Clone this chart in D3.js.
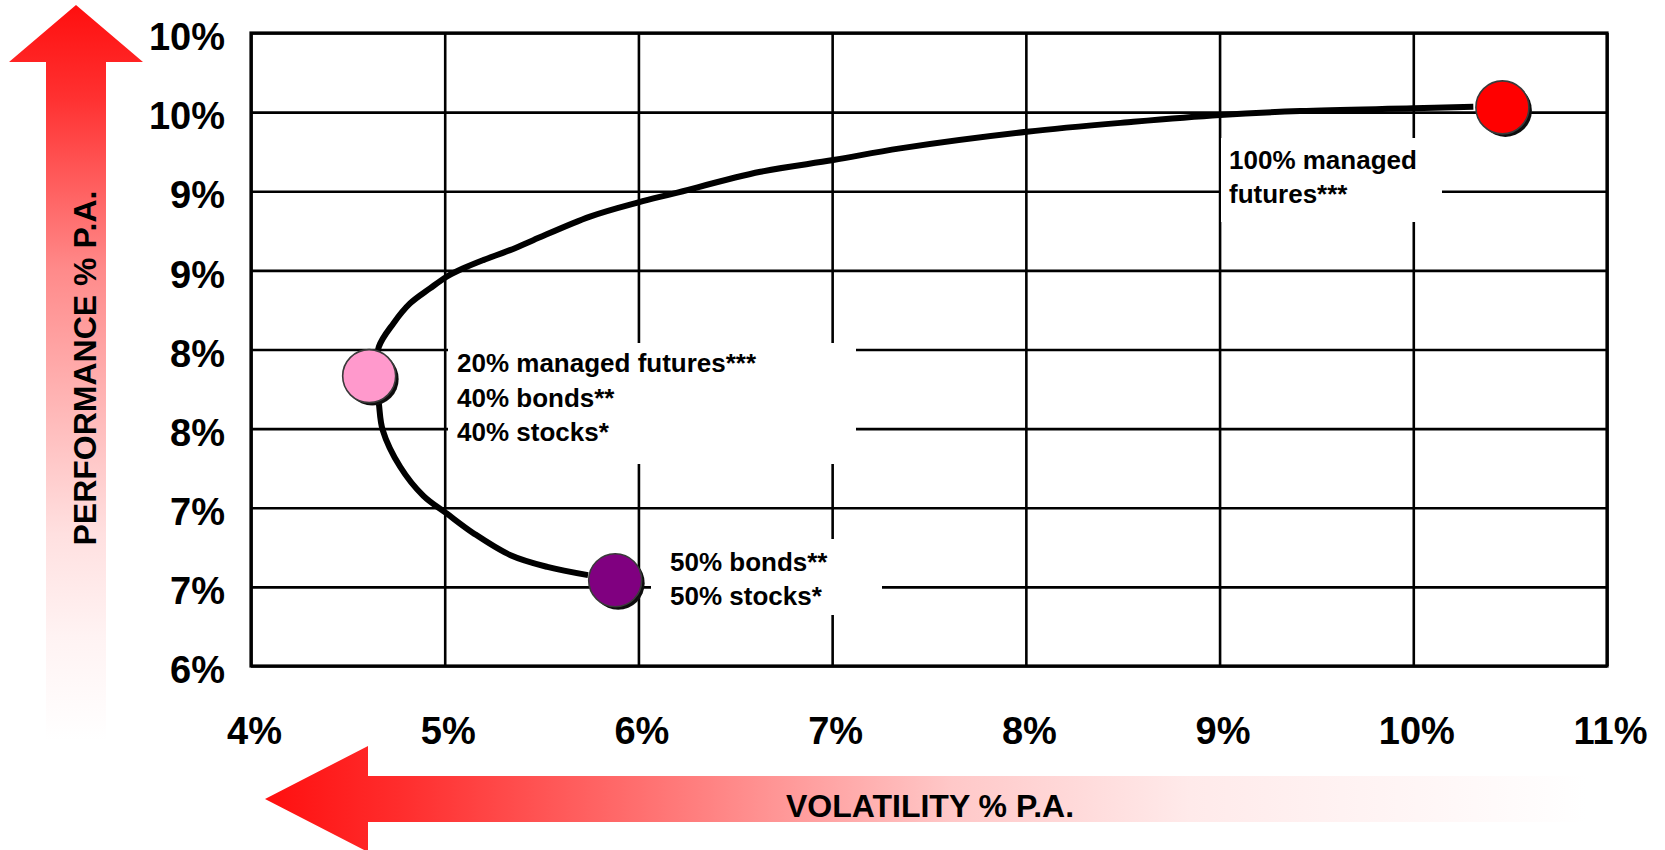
<!DOCTYPE html>
<html>
<head>
<meta charset="utf-8">
<script src="https://cdn.jsdelivr.net/npm/d3@7"></script>
<style>
  html, body { margin: 0; padding: 0; background: #ffffff; }
  svg { display: block; }
  text { font-family: "Liberation Sans", Arial, Helvetica, sans-serif; font-weight: bold; fill: #000; }
</style>
</head>
<body>
<svg id="chart" width="1665" height="850"></svg>
<script>
// Axis ticks (volatility % p.a. on x, performance % p.a. on y)
const xTicks = [4, 5, 6, 7, 8, 9, 10, 11];
const xTickLabels = ["4%", "5%", "6%", "7%", "8%", "9%", "10%", "11%"];
const yTicks = [6, 6.5, 7, 7.5, 8, 8.5, 9, 9.5, 10];
const yTickLabels = ["6%", "7%", "7%", "8%", "8%", "9%", "9%", "10%", "10%"];

// Efficient frontier: volatility and performance of blended portfolios
const frontierVol  = [5.74, 5.53, 5.34, 5.15, 5.01, 4.89, 4.77, 4.68, 4.66, 4.645, 4.66, 4.735, 4.821, 4.924, 5.01, 5.096, 5.199, 5.337, 5.457, 5.75, 6.00, 6.18, 6.63, 7.006, 7.351, 8.005, 8.555, 9.003, 9.416, 10.00, 10.31];
const frontierPerf = [6.574, 6.626, 6.70, 6.838, 6.964, 7.075, 7.259, 7.491, 7.659, 7.826, 8.017, 8.165, 8.291, 8.386, 8.46, 8.513, 8.565, 8.628, 8.691, 8.84, 8.93, 8.985, 9.123, 9.197, 9.271, 9.376, 9.439, 9.482, 9.507, 9.524, 9.534];

// Highlighted portfolios
const portfolioVol   = [5.88, 4.61, 10.46];
const portfolioPerf  = [6.542, 7.832, 9.53];
const portfolioColor = ["#800080", "#ff99cc", "#ff0000"];
const portfolioText  = [
  ["50% bonds**", "50% stocks*"],
  ["20% managed futures***", "40% bonds**", "40% stocks*"],
  ["100% managed", "futures***"]
];

const svg = d3.select("#chart");
const margin = { left: 251, right: 58, top: 33, bottom: 184 };
const W = 1665, H = 850;
const x0 = margin.left, x1 = W - margin.right;
const y0 = margin.top, y1 = H - margin.bottom;

const x = d3.scaleLinear().domain([4, 11]).range([x0, x1]);
const y = d3.scaleLinear().domain([6, 10]).range([y1, y0]);

// ---- gradient arrows ----
const defs = svg.append("defs");
const vGrad = defs.append("linearGradient").attr("id", "vGrad")
  .attr("gradientUnits", "userSpaceOnUse").attr("x1", 0).attr("y1", 5).attr("x2", 0).attr("y2", 740);
[[0, "#ff0f0f"], [0.125, "#ff3030"], [0.36, "#ff8a8a"], [0.72, "#ffe0e0"], [0.86, "#fff3f3"], [1, "#ffffff"]]
  .forEach(([o, c]) => vGrad.append("stop").attr("offset", o).attr("stop-color", c));
const hGrad = defs.append("linearGradient").attr("id", "hGrad")
  .attr("gradientUnits", "userSpaceOnUse").attr("x1", 265).attr("y1", 0).attr("x2", 1586).attr("y2", 0);
[[0, "#ff0f0f"], [0.1, "#ff2c2c"], [0.33, "#ff8080"], [0.52, "#ffc8c8"], [0.7, "#ffeaea"], [0.93, "#fffafa"], [1, "#ffffff"]]
  .forEach(([o, c]) => hGrad.append("stop").attr("offset", o).attr("stop-color", c));

const shadow = defs.append("filter").attr("id", "soft").attr("x", "-20%").attr("y", "-20%").attr("width", "140%").attr("height", "140%");
shadow.append("feGaussianBlur").attr("stdDeviation", 0.6);

// Upward arrow: performance
svg.append("path")
  .attr("d", "M76,5 L143,62 L106,62 L106,740 L46,740 L46,62 L9,62 Z")
  .attr("fill", "url(#vGrad)");
// Leftward arrow: volatility
svg.append("path")
  .attr("d", "M265,799 L368,746 L368,776 L1586,776 L1586,822 L368,822 L368,852 Z")
  .attr("fill", "url(#hGrad)");

svg.append("text")
  .attr("transform", "translate(84,368) rotate(-90)")
  .attr("text-anchor", "middle").attr("dy", "0.36em")
  .style("font-size", "32px")
  .text("PERFORMANCE % P.A.");
svg.append("text")
  .attr("x", 930).attr("y", 817)
  .attr("text-anchor", "middle")
  .style("font-size", "32px")
  .text("VOLATILITY % P.A.");

// ---- grid ----
const grid = svg.append("g");
grid.append("g").attr("transform", `translate(0,${y1})`)
  .call(d3.axisBottom(x).tickValues(xTicks).tickSize(-(y1 - y0)).tickFormat(""))
  .call(g => g.select(".domain").remove())
  .call(g => g.selectAll("line").attr("stroke", "#000").attr("stroke-width", 2.6));
grid.append("g").attr("transform", `translate(${x0},0)`)
  .call(d3.axisLeft(y).tickValues(yTicks).tickSize(-(x1 - x0)).tickFormat(""))
  .call(g => g.select(".domain").remove())
  .call(g => g.selectAll("line").attr("stroke", "#000").attr("stroke-width", 2.6));

// plot frame
svg.append("rect")
  .attr("x", x0).attr("y", y0).attr("width", x1 - x0).attr("height", y1 - y0)
  .attr("fill", "none").attr("stroke", "#000").attr("stroke-width", 3.2);

// ---- label panels (white boxes that mask the grid) ----
const panels = [
  { i: 0, box: [651, 539, 231, 76], tx: 670, ty: 561.5 },
  { i: 1, box: [448, 343, 408, 121], tx: 457, ty: 363 },
  { i: 2, box: [1221, 138, 221, 84], tx: 1229, ty: 159.5 }
];
const lineGap = 34.5;
panels.forEach(p => {
  svg.append("rect")
    .attr("x", p.box[0]).attr("y", p.box[1]).attr("width", p.box[2]).attr("height", p.box[3])
    .attr("fill", "#ffffff");
  svg.append("g").selectAll("text")
    .data(portfolioText[p.i]).join("text")
    .attr("x", p.tx).attr("y", (d, k) => p.ty + k * lineGap)
    .attr("dy", "0.35em")
    .style("font-size", "26px")
    .text(d => d);
});

// ---- frontier curve ----
const frontier = frontierVol.map((v, i) => [v, frontierPerf[i]]);
svg.append("path")
  .datum(frontier)
  .attr("d", d3.line().x(d => x(d[0])).y(d => y(d[1])).curve(d3.curveCatmullRom.alpha(0.5)))
  .attr("fill", "none").attr("stroke", "#000").attr("stroke-width", 6)
  .attr("stroke-linejoin", "round").attr("stroke-linecap", "butt");

// ---- portfolio markers ----
const pts = portfolioVol.map((v, i) => ({ v, p: portfolioPerf[i], c: portfolioColor[i] }));
const mk = svg.append("g");
mk.selectAll("circle.sh").data(pts).join("circle").attr("class", "sh")
  .attr("cx", d => x(d.v) + 3).attr("cy", d => y(d.p) + 3).attr("r", 26.5)
  .attr("fill", "#111").attr("filter", "url(#soft)");
mk.selectAll("circle.pt").data(pts).join("circle").attr("class", "pt")
  .attr("cx", d => x(d.v)).attr("cy", d => y(d.p)).attr("r", 26.5)
  .attr("fill", d => d.c).attr("stroke", "#3a3a3a").attr("stroke-width", 1.6);

// ---- tick labels ----
svg.append("g").attr("transform", `translate(${x0},0)`)
  .call(d3.axisLeft(y).tickValues(yTicks).tickSize(0).tickPadding(26)
    .tickFormat((d, i) => yTickLabels[i]))
  .call(g => g.select(".domain").remove())
  .call(g => g.selectAll("text")
    .attr("dy", "0.44em")
    .style("font-size", "38px").style("font-family", "\"Liberation Sans\", Arial, sans-serif")
    .style("font-weight", "bold").attr("fill", "#000"));

svg.append("g").attr("transform", `translate(0,${y1})`)
  .call(d3.axisBottom(x).tickValues(xTicks).tickSize(0).tickPadding(51)
    .tickFormat((d, i) => xTickLabels[i]))
  .call(g => g.select(".domain").remove())
  .call(g => g.selectAll("text")
    .attr("dx", 3)
    .style("font-size", "38px").style("font-family", "\"Liberation Sans\", Arial, sans-serif")
    .style("font-weight", "bold").attr("fill", "#000"));
</script>
</body>
</html>
